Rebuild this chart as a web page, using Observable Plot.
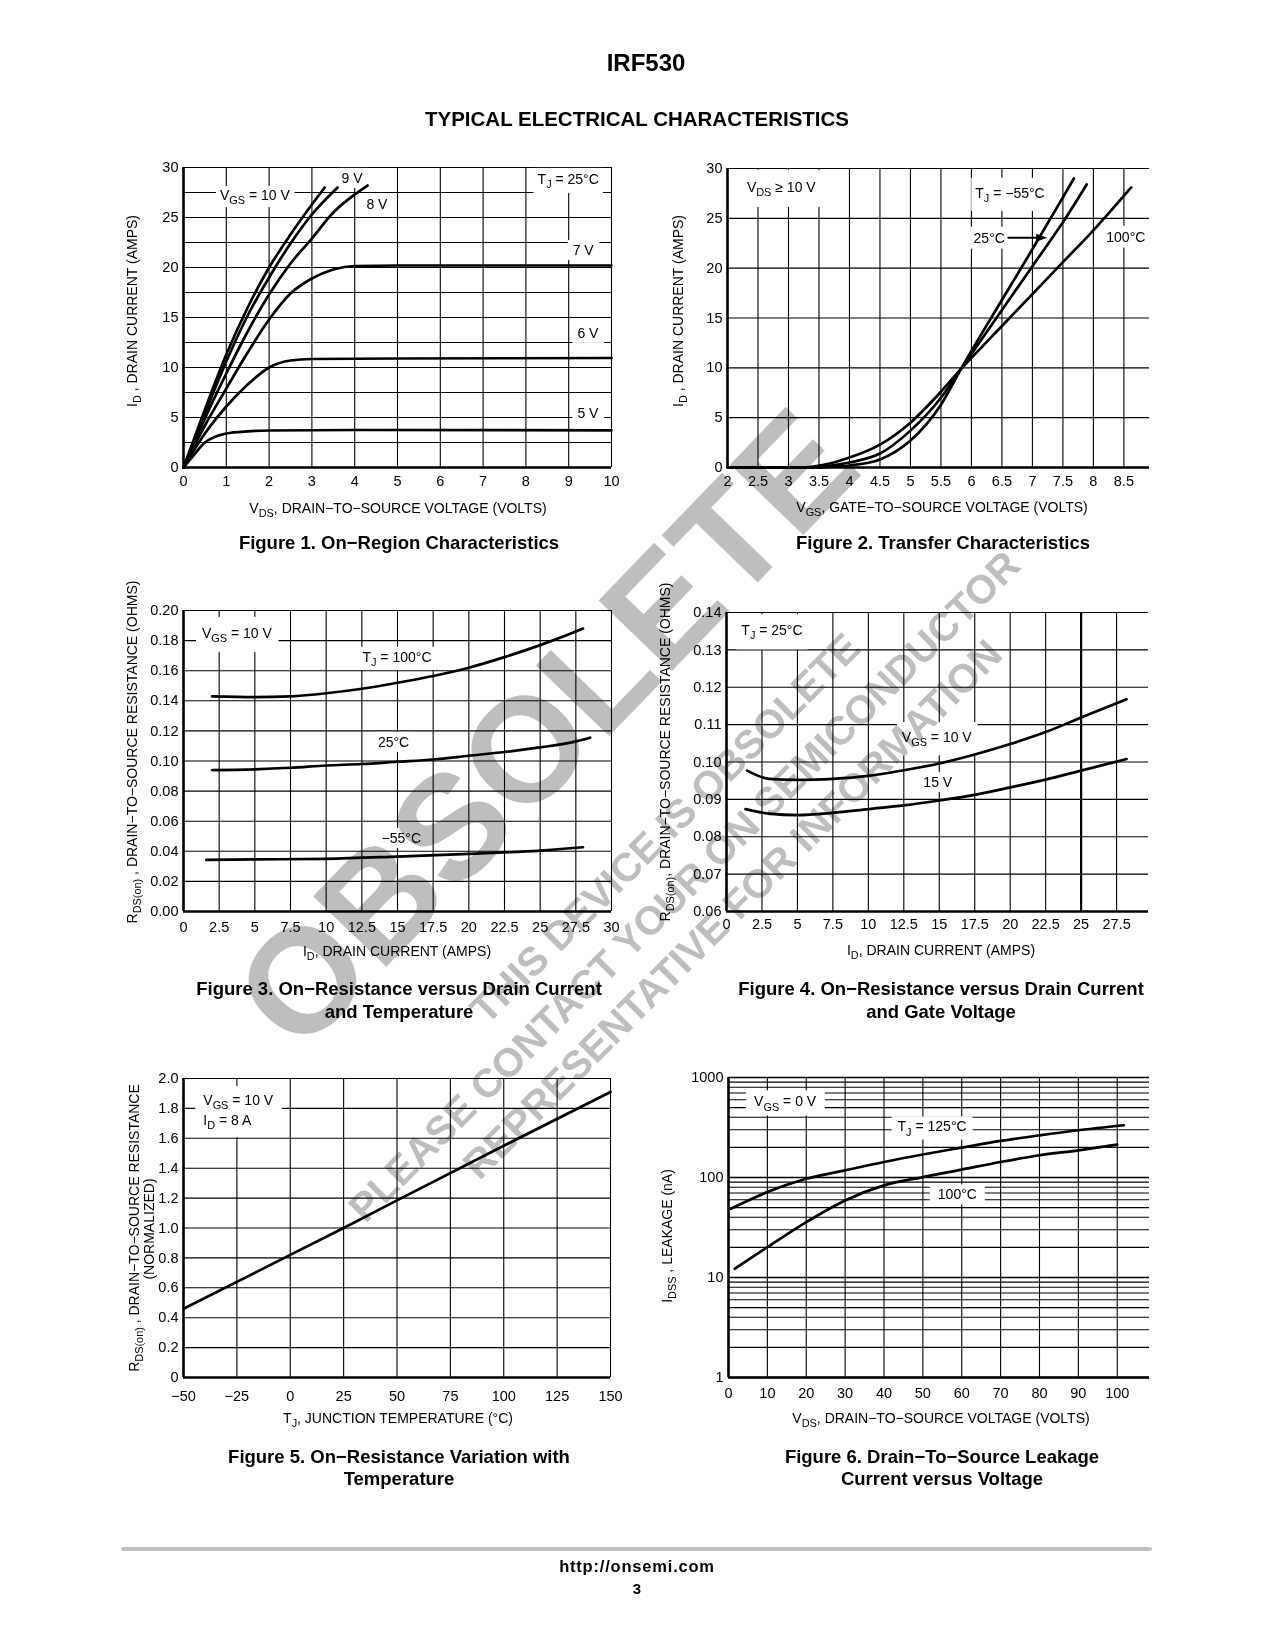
<!DOCTYPE html>
<html>
<head>
<meta charset="utf-8">
<script src="https://cdn.jsdelivr.net/npm/d3@7"></script>
<script src="https://cdn.jsdelivr.net/npm/@observablehq/plot@0.6"></script>
<style>
  html, body { margin:0; padding:0; background:#fff; }
  #page { position:relative; width:1275px; height:1650px; overflow:hidden; background:#fff; }
  .chart { position:absolute; }
  .chart svg { overflow:visible; max-width:none !important; background:transparent !important; }
  .layer { position:absolute; left:0; top:0; pointer-events:none; }
  #wm { mix-blend-mode: multiply; }
</style>
</head>
<body>
<div id="page"></div>
<script>
const NARROW = "'Liberation Sans Narrow','Arial Narrow','Liberation Sans',Arial,sans-serif";
const SANS = "'Liberation Sans',Arial,Helvetica,sans-serif";

// ---------------- Figure 1: On-Region Characteristics ----------------
const fig1XTicks = [0,1,2,3,4,5,6,7,8,9,10];
const fig1YTicks = [0,5,10,15,20,25,30];
const fig1YGrid  = [0,2.5,5,7.5,10,12.5,15,17.5,20,22.5,25,27.5,30];
const fig1Vgs10 = [[0,0],[0.5,5.8],[1,11.3],[1.5,16.0],[2,20.0],[2.5,23.3],[3,26.3],[3.3,28.0]];
const fig1Vgs9  = [[0,0],[0.5,5.4],[1,10.6],[1.5,15.2],[2,19.0],[2.5,22.4],[3,25.3],[3.6,28.0]];
const fig1Vgs8  = [[0,0],[0.5,4.9],[1,9.4],[1.5,13.6],[2,17.3],[2.5,20.4],[3,22.9],[3.5,25.5],[4,27.3],[4.3,28.2]];
const fig1Vgs7  = [[0,0],[0.5,4.2],[1,7.9],[1.5,11.5],[2,14.8],[2.5,17.4],[3,18.9],[3.5,19.8],[4,20.15],[5,20.2],[7,20.2],[10,20.2]];
const fig1Vgs6  = [[0,0],[0.5,3.4],[1,6.1],[1.5,8.3],[2,10.0],[2.5,10.7],[3,10.85],[5,10.9],[10,10.95]];
const fig1Vgs5  = [[0,0],[0.25,1.3],[0.5,2.5],[0.75,3.1],[1,3.4],[1.5,3.62],[2,3.7],[4,3.75],[10,3.72]];

// ---------------- Figure 2: Transfer Characteristics ----------------
const fig2XTicks = [2,2.5,3,3.5,4,4.5,5,5.5,6,6.5,7,7.5,8,8.5];
const fig2YTicks = [0,5,10,15,20,25,30];
const fig2Tm55 = [[2,0],[3.5,0],[3.8,0.1],[4,0.2],[4.5,0.8],[5,2.7],[5.5,6.3],[5.83,9.9],[6,11.7],[6.5,16.8],[7,21.9],[7.5,27.1],[7.68,29.0]];
const fig2T25  = [[2,0],[3.3,0],[3.7,0.2],[4,0.5],[4.5,1.4],[5,3.7],[5.5,7.0],[5.83,9.9],[6,11.4],[6.5,15.8],[7,20.2],[7.5,24.6],[7.89,28.4]];
const fig2T100 = [[2,0],[3.2,0],[3.6,0.3],[4,1.0],[4.5,2.3],[5,4.5],[5.5,7.6],[5.83,9.9],[6,11.0],[6.5,14.2],[7,17.4],[7.5,20.6],[8,23.8],[8.62,28.1]];

// ---------------- Figure 3: On-Resistance vs Drain Current and Temperature ----------------
const fig3XTicks = [0,2.5,5,7.5,10,12.5,15,17.5,20,22.5,25,27.5,30];
const fig3YTicks = [0,0.02,0.04,0.06,0.08,0.10,0.12,0.14,0.16,0.18,0.20];
const fig3T100 = [[2,0.143],[5,0.1425],[7.5,0.143],[10,0.145],[12.5,0.148],[15,0.152],[17.5,0.1565],[20,0.162],[22.5,0.169],[25,0.177],[27.5,0.186],[28,0.188]];
const fig3T25  = [[2,0.094],[5,0.0945],[7.5,0.0955],[10,0.097],[12.5,0.098],[15,0.0995],[17.5,0.101],[20,0.1035],[22.5,0.106],[25,0.109],[27.5,0.113],[28.5,0.1155]];
const fig3Tm55 = [[1.6,0.0343],[5,0.0346],[10,0.035],[15,0.0365],[20,0.0383],[25,0.0405],[28,0.0427]];

// ---------------- Figure 4: On-Resistance vs Drain Current and Gate Voltage ----------------
const fig4XTicks = [0,2.5,5,7.5,10,12.5,15,17.5,20,22.5,25,27.5];
const fig4YTicks = [0.06,0.07,0.08,0.09,0.10,0.11,0.12,0.13,0.14];
const fig4Vgs10 = [[1.45,0.0977],[3,0.0955],[5,0.0952],[7.5,0.0955],[10,0.0963],[12.5,0.0978],[15,0.0996],[17.5,0.102],[20,0.1048],[22.5,0.108],[25,0.1119],[28.2,0.1168]];
const fig4Vgs15 = [[1.34,0.0874],[3,0.0862],[5,0.0858],[7.5,0.0864],[10,0.0874],[12.5,0.0884],[15,0.0897],[17.5,0.0912],[20,0.0932],[22.5,0.0953],[25,0.0977],[28.2,0.1008]];

// ---------------- Figure 5: On-Resistance Variation with Temperature ----------------
const fig5XTicks = [-50,-25,0,25,50,75,100,125,150];
const fig5YTicks = [0,0.2,0.4,0.6,0.8,1.0,1.2,1.4,1.6,1.8,2.0];
const fig5Rds = [[-50,0.46],[0,0.82],[25,1.0],[50,1.185],[100,1.55],[150,1.91]];

// ---------------- Figure 6: Drain-To-Source Leakage Current vs Voltage ----------------
const fig6XTicks = [0,10,20,30,40,50,60,70,80,90,100];
const fig6YTicks = [1,10,100,1000];
const fig6YMinor = [2,3,4,5,6,7,8,9,20,30,40,50,60,70,80,90,200,300,400,500,600,700,800,900];
const fig6T125 = [[0.6,48.7],[10,71.5],[20,97],[30,118],[40,143],[50,170],[60,199],[70,232],[80,264],[90,297],[101.7,333]];
const fig6T100 = [[1.6,12.2],[10,20.1],[20,35.8],[30,59],[40,83.4],[50,101],[60,120],[70,143],[80,167],[90,187],[100,213]];

// ---------------- helpers ----------------
const page = document.getElementById("page");

function rich(sel, segs, size) {
  let sub = false;
  for (const [s, kind] of segs) {
    const ts = sel.append("tspan").text(s);
    if (kind === "sub") {
      ts.attr("font-size", size * 0.78);
      if (!sub) { ts.attr("dy", size * 0.3); sub = true; }
    } else if (sub) {
      ts.attr("dy", -size * 0.3); sub = false;
    }
  }
}

const M = {l: 60, r: 24, t: 24, b: 50};

function buildChart(c) {
  const fw = c.frame[1] - c.frame[0], fh = c.frame[3] - c.frame[2];
  const W = fw + M.l + M.r, H = fh + M.t + M.b;
  const marks = [
    Plot.ruleX(c.xGrid, {stroke: "#000", strokeWidth: 1.1}),
    Plot.ruleY(c.yGrid, {stroke: "#000", strokeWidth: 1.1})
  ];
  if (c.heavyX) marks.push(Plot.ruleX(c.heavyX, {stroke: "#000", strokeWidth: 2.2}));
  if (c.heavyY) marks.push(Plot.ruleY(c.heavyY, {stroke: "#000", strokeWidth: 1.6}));
  marks.push(Plot.ruleX([c.xDomain[0]], {stroke: "#000", strokeWidth: 2.6}));
  marks.push(Plot.ruleY([c.yDomain[0]], {stroke: "#000", strokeWidth: 2.6}));
  for (const s of c.series) {
    marks.push(Plot.line(s, {x: d => d[0], y: d => d[1], stroke: "#000", strokeWidth: 2.7, curve: c.curve || "monotone-x"}));
  }
  const svg = Plot.plot({
    width: W, height: H,
    marginLeft: M.l, marginRight: M.r, marginTop: M.t, marginBottom: M.b,
    style: {fontFamily: NARROW, fontSize: "14.5px", background: "transparent", overflow: "visible", color: "#000"},
    x: {domain: c.xDomain, ticks: c.xTicks, tickFormat: c.xFormat, tickSize: 0, tickPadding: c.xPad, label: null},
    y: {type: c.yType || "linear", domain: c.yDomain, ticks: c.yTicks, tickFormat: c.yFormat, tickSize: 0, tickPadding: 5, label: null},
    marks
  });
  const div = document.createElement("div");
  div.className = "chart";
  div.style.left = (c.frame[0] - M.l) + "px";
  div.style.top = (c.frame[2] - M.t) + "px";
  div.style.width = W + "px";
  div.style.height = H + "px";
  div.appendChild(svg);
  page.appendChild(div);

  const sx = svg.scale("x"), sy = svg.scale("y");
  const root = d3.select(svg);
  const firstLine = svg.querySelector('g[aria-label="line"]');
  for (const L of c.labels) {
    const g = firstLine ? root.insert("g", () => firstLine) : root.append("g");
    const x = sx.apply(L.x), y = sy.apply(L.y);
    L.lines.forEach((segs, i) => {
      const t = g.append("text").attr("x", x).attr("y", y + i * 20).attr("dy", "0.35em")
        .attr("text-anchor", L.anchor || "middle").attr("font-family", NARROW)
        .attr("font-size", 14).attr("fill", "#000");
      rich(t, segs, 14);
    });
    const bb = g.node().getBBox();
    const [px, py] = L.pad || [3, 1];
    g.insert("rect", "text").attr("x", bb.x - px).attr("y", bb.y - py)
      .attr("width", bb.width + 2 * px).attr("height", bb.height + 2 * py).attr("fill", "#fff");
  }
  if (c.arrows) {
    for (const a of c.arrows) {
      const x1 = sx.apply(a.x1), x2 = sx.apply(a.x2), y = sy.apply(a.y);
      root.append("line").attr("x1", x1).attr("y1", y).attr("x2", x2 - 8).attr("y2", y).attr("stroke", "#000").attr("stroke-width", 1.8);
      root.append("path").attr("d", `M${x2},${y}L${x2 - 11},${y - 4}L${x2 - 11},${y + 4}Z`).attr("fill", "#000");
    }
  }
  return svg;
}

const fmtNum = d => String(d).replace("-", "\u2212");

// ---------------- charts ----------------
buildChart({
  frame: [183, 611, 167, 467],
  xDomain: [0, 10], yDomain: [0, 30],
  xTicks: fig1XTicks, yTicks: fig1YTicks, xFormat: fmtNum, yFormat: fmtNum, xPad: 8,
  xGrid: fig1XTicks, yGrid: fig1YGrid,
  series: [fig1Vgs10, fig1Vgs9, fig1Vgs8, fig1Vgs7, fig1Vgs6, fig1Vgs5],
  labels: [
    {x: 1.68, y: 27.2, lines: [[["V"], ["GS", "sub"], [" = 10 V"]]], pad: [4, 1]},
    {x: 3.95, y: 28.9, lines: [[["9 V"]]], pad: [4, 2]},
    {x: 4.53, y: 26.3, lines: [[["8 V"]]], pad: [4, 2]},
    {x: 9.0, y: 28.8, lines: [[["T"], ["J", "sub"], [" = 25°C"]]], pad: [4, 3]},
    {x: 9.35, y: 21.7, lines: [[["7 V"]]], pad: [5, 2]},
    {x: 9.46, y: 13.4, lines: [[["6 V"]]], pad: [5, 2]},
    {x: 9.46, y: 5.4, lines: [[["5 V"]]], pad: [5, 2]}
  ]
});

buildChart({
  frame: [727, 1149, 168, 467],
  xDomain: [2, 8.92], yDomain: [0, 30],
  xTicks: fig2XTicks, yTicks: fig2YTicks, xFormat: fmtNum, yFormat: fmtNum, xPad: 8,
  xGrid: fig2XTicks, yGrid: fig2YTicks,
  series: [fig2Tm55, fig2T25, fig2T100],
  arrows: [{x1: 6.6, x2: 7.25, y: 23.0}],
  labels: [
    {x: 2.89, y: 28.1, lines: [[["V"], ["DS", "sub"], [" \u2265 10 V"]]], pad: [5, 9]},
    {x: 6.64, y: 27.5, lines: [[["T"], ["J", "sub"], [" = \u221255°C"]]], pad: [4, 7]},
    {x: 6.30, y: 23.0, lines: [[["25°C"]]], pad: [3, 3]},
    {x: 8.54, y: 23.1, lines: [[["100°C"]]], pad: [4, 3]}
  ]
});

buildChart({
  frame: [183, 611, 610, 911],
  xDomain: [0, 30], yDomain: [0, 0.2],
  xTicks: fig3XTicks, yTicks: fig3YTicks, xFormat: fmtNum, yFormat: d => d.toFixed(2), xPad: 10,
  xGrid: fig3XTicks, yGrid: fig3YTicks,
  series: [fig3T100, fig3T25, fig3Tm55],
  labels: [
    {x: 3.78, y: 0.1847, lines: [[["V"], ["GS", "sub"], [" = 10 V"]]], pad: [6, 8]},
    {x: 15.0, y: 0.1688, lines: [[["T"], ["J", "sub"], [" = 100°C"]]], pad: [4, 2]},
    {x: 14.76, y: 0.1123, lines: [[["25°C"]]], pad: [4, 2]},
    {x: 15.3, y: 0.0485, lines: [[["\u221255°C"]]], pad: [4, 2]}
  ]
});

buildChart({
  frame: [726, 1148, 612, 911],
  xDomain: [0, 29.75], yDomain: [0.06, 0.14],
  xTicks: fig4XTicks, yTicks: fig4YTicks, xFormat: fmtNum, yFormat: d => d.toFixed(2), xPad: 7,
  xGrid: fig4XTicks, yGrid: fig4YTicks, heavyX: [25],
  series: [fig4Vgs10, fig4Vgs15],
  labels: [
    {x: 3.24, y: 0.1351, lines: [[["T"], ["J", "sub"], [" = 25°C"]]], pad: [5, 8]},
    {x: 14.86, y: 0.1065, lines: [[["V"], ["GS", "sub"], [" = 10 V"]]], pad: [5, 7]},
    {x: 14.93, y: 0.0945, lines: [[["15 V"]]], pad: [4, 2]}
  ]
});

buildChart({
  frame: [183, 610, 1078, 1377],
  xDomain: [-50, 150], yDomain: [0, 2],
  xTicks: fig5XTicks, yTicks: fig5YTicks, xFormat: fmtNum, yFormat: d => d === 0 ? "0" : d.toFixed(1), xPad: 13,
  xGrid: fig5XTicks, yGrid: fig5YTicks,
  series: [fig5Rds], curve: "linear",
  labels: [
    {x: -40.5, y: 1.853, anchor: "start", lines: [[["V"], ["GS", "sub"], [" = 10 V"]], [["I"], ["D", "sub"], [" = 8 A"]]], pad: [8, 6]}
  ]
});

buildChart({
  frame: [728, 1149, 1077, 1377],
  xDomain: [0, 108.3], yDomain: [1, 1000], yType: "log",
  xTicks: fig6XTicks, yTicks: fig6YTicks, xFormat: fmtNum, yFormat: d => String(d), xPad: 10,
  xGrid: fig6XTicks, yGrid: fig6YMinor, heavyY: fig6YTicks,
  series: [fig6T125, fig6T100],
  labels: [
    {x: 14.7, y: 570, lines: [[["V"], ["GS", "sub"], [" = 0 V"]]], pad: [8, 3]},
    {x: 52.5, y: 320, lines: [[["T"], ["J", "sub"], [" = 125°C"]]], pad: [6, 2]},
    {x: 59, y: 66.7, lines: [[["100°C"]]], pad: [8, 2]}
  ]
});

// ---------------- page texts ----------------
const ov = d3.select(page).append("svg").attr("class", "layer").attr("width", 1275).attr("height", 1650);

function ptext(x, y, segs, o = {}) {
  const size = o.size || 14;
  const t = ov.append("text")
    .attr("transform", `translate(${x},${y})` + (o.rotate ? ` rotate(${o.rotate})` : ""))
    .attr("text-anchor", o.anchor || "middle")
    .attr("dy", "0.35em")
    .attr("font-family", o.family || NARROW)
    .attr("font-size", size)
    .attr("font-weight", o.weight || "normal")
    .attr("fill", "#000");
  if (o.spacing) t.attr("letter-spacing", o.spacing);
  rich(t, segs, size);
}

// header
ptext(646, 63, [["IRF530"]], {family: SANS, weight: "bold", size: 24});
ptext(637, 119, [["TYPICAL ELECTRICAL CHARACTERISTICS"]], {family: SANS, weight: "bold", size: 20.5});

// axis titles
ptext(398, 508, [["V"], ["DS", "sub"], [", DRAIN\u2212TO\u2212SOURCE VOLTAGE (VOLTS)"]]);
ptext(132, 311, [["I"], ["D", "sub"], [" , DRAIN CURRENT (AMPS)"]], {rotate: -90});
ptext(942, 507, [["V"], ["GS", "sub"], [", GATE\u2212TO\u2212SOURCE VOLTAGE (VOLTS)"]]);
ptext(678, 311, [["I"], ["D", "sub"], [" , DRAIN CURRENT (AMPS)"]], {rotate: -90});
ptext(397, 951, [["I"], ["D", "sub"], [", DRAIN CURRENT (AMPS)"]]);
ptext(132, 752, [["R"], ["DS(on)", "sub"], [" , DRAIN\u2212TO\u2212SOURCE RESISTANCE (OHMS)"]], {rotate: -90});
ptext(941, 950, [["I"], ["D", "sub"], [", DRAIN CURRENT (AMPS)"]]);
ptext(665, 752, [["R"], ["DS(on)", "sub"], [", DRAIN\u2212TO\u2212SOURCE RESISTANCE (OHMS)"]], {rotate: -90});
ptext(398, 1418, [["T"], ["J", "sub"], [", JUNCTION TEMPERATURE (°C)"]]);
ptext(134, 1228, [["R"], ["DS(on)", "sub"], [" , DRAIN\u2212TO\u2212SOURCE RESISTANCE"]], {rotate: -90});
ptext(149, 1229, [["(NORMALIZED)"]], {rotate: -90});
ptext(941, 1418, [["V"], ["DS", "sub"], [", DRAIN\u2212TO\u2212SOURCE VOLTAGE (VOLTS)"]]);
ptext(667, 1236, [["I"], ["DSS", "sub"], [" , LEAKAGE (nA)"]], {rotate: -90});

// captions
const capOpt = {family: SANS, weight: "bold", size: 18.5};
ptext(399, 543, [["Figure 1. On\u2212Region Characteristics"]], capOpt);
ptext(943, 543, [["Figure 2. Transfer Characteristics"]], capOpt);
ptext(399, 989, [["Figure 3. On\u2212Resistance versus Drain Current"]], capOpt);
ptext(399, 1012, [["and Temperature"]], capOpt);
ptext(941, 989, [["Figure 4. On\u2212Resistance versus Drain Current"]], capOpt);
ptext(941, 1012, [["and Gate Voltage"]], capOpt);
ptext(399, 1457, [["Figure 5. On\u2212Resistance Variation with"]], capOpt);
ptext(399, 1479, [["Temperature"]], capOpt);
ptext(942, 1457, [["Figure 6. Drain\u2212To\u2212Source Leakage"]], capOpt);
ptext(942, 1479, [["Current versus Voltage"]], capOpt);

// footer
ov.append("line").attr("x1", 123).attr("x2", 1150).attr("y1", 1549).attr("y2", 1549)
  .attr("stroke", "#c0c0c0").attr("stroke-width", 4).attr("stroke-linecap", "round");
ptext(637, 1566, [["http://onsemi.com"]], {family: SANS, weight: "bold", size: 16.5, spacing: 0.8});
ptext(637, 1589, [["3"]], {family: SANS, weight: "bold", size: 15});

// ---------------- watermark ----------------
const wm = d3.select(page).append("svg").attr("id", "wm").attr("class", "layer").attr("width", 1275).attr("height", 1650);
const wmTexts = [
  {t: "OBSOLETE", x: 545, y: 728, size: 148, rot: -46},
  {t: "THIS DEVICE IS OBSOLETE", x: 665, y: 828, size: 40, rot: -45},
  {t: "PLEASE CONTACT YOUR ON SEMICONDUCTOR", x: 684, y: 886, size: 40, rot: -45},
  {t: "REPRESENTATIVE FOR INFORMATION", x: 732, y: 909, size: 40, rot: -45}
];
for (const w of wmTexts) {
  wm.append("text").attr("transform", `translate(${w.x},${w.y}) rotate(${w.rot})`)
    .attr("text-anchor", "middle").attr("dy", "0.35em")
    .attr("font-family", SANS).attr("font-weight", "bold").attr("font-size", w.size)
    .attr("fill", "#bebebe").text(w.t);
}
</script>
</body>
</html>
